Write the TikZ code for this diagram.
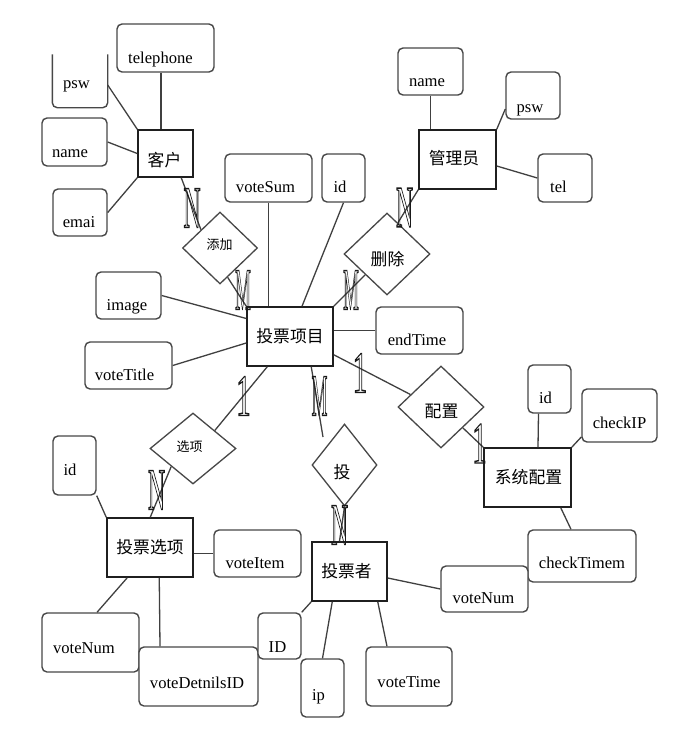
\documentclass[tikz,border=0pt]{standalone}
\usepackage{fontspec}
\setmainfont{Liberation Serif}
\newfontfamily\cjk{Noto Sans CJK SC}
\usetikzlibrary{shapes.geometric,calc}
\tikzset{
  attrbox/.style={draw=black!72, line width=1.4pt, rounded corners=5pt, fill=white, inner sep=0pt},
  entbox/.style={draw=black!88, line width=1.5pt, fill=white, inner sep=0pt},
  relbox/.style={diamond, draw=black!72, line width=1.3pt, fill=white, inner sep=0pt},
  link/.style={draw=black!75, line width=1.3pt},
  attrtext/.style={font=\fontsize{16.6}{18}\selectfont, inner sep=0pt},
  enttext/.style={font=\cjk\fontsize{16.8}{18}\selectfont, inner sep=0pt},
  card/.style={font=\fontsize{59}{60}\selectfont, text=black!90, inner sep=0pt},
}
\newcommand\outl[1]{\special{pdf:literal direct 1 Tr 1.4 w}#1}
% name x1 y1 x2 y2 dx baseoffset text
\newcommand\attrnode[8]{%
  \node[attrbox, minimum width={#4pt-#2pt}, minimum height={#5pt-#3pt},
    label={[attrtext, anchor=base, xshift=#6pt, yshift=#7pt]south:#8}]
    (#1) at ({(#2+#4)/2},{(#3+#5)/2}) {};}
% name x1 y1 x2 y2 dx dy text
\newcommand\entnode[8]{%
  \node[entbox, minimum width={#4pt-#2pt}, minimum height={#5pt-#3pt},
    label={[enttext, xshift=#6pt, yshift=#7pt]center:#8}]
    (#1) at ({(#2+#4)/2},{(#3+#5)/2}) {};}
% name cx cy hw hh dx dy text
\newcommand\relnode[8]{%
  \node[relbox, minimum width={2*#4pt}, minimum height={2*#5pt},
    label={[enttext, xshift=#6pt, yshift=#7pt]center:#8}]
    (#1) at (#2,#3) {};}
\begin{document}
\begin{tikzpicture}[x=1pt, y=-1pt]
\fill[white] (0,0) rectangle (692,734);
\useasboundingbox (0,0) rectangle (692,734);

% attributes
\attrnode{tel1}{117}{24}{214}{72}{-5}{9}{telephone}
\node[attrbox, draw=none, minimum width=54pt, minimum height=52pt,
  label={[attrtext, anchor=base, xshift=-3.5pt, yshift=19pt]south:psw}]
  (psw1) at (80,81) {};
\draw[draw=black!72, line width=1.4pt, rounded corners=5pt]
  (psw1.north west) -- (psw1.south west) -- (psw1.south east) -- (psw1.north east);
\attrnode{name1}{42}{118}{107}{166}{-4.5}{9}{name}
\attrnode{emai}{53}{189}{107}{236}{-1}{9}{emai}
\attrnode{name2}{398}{48}{463}{95}{-3.5}{9}{name}
\attrnode{psw2}{506}{72}{560}{119}{-3}{7}{psw}
\attrnode{tel2}{538}{154}{592}{202}{-6.5}{10}{tel}
\attrnode{vs}{225}{154}{312}{202}{-3}{10}{voteSum}
\attrnode{id1}{322}{154}{365}{202}{-3.5}{10}{id}
\attrnode{img}{96}{272}{161}{319}{-1.5}{9}{image}
\attrnode{vt}{85}{342}{172}{389}{-4}{9}{voteTitle}
\attrnode{et}{376}{307}{463}{354}{-2.5}{9}{endTime}
\attrnode{id3}{528}{365}{571}{413}{-4}{10}{id}
\attrnode{cip}{582}{389}{657}{442}{0}{14}{checkIP}
\attrnode{ctm}{528}{530}{636}{582}{0}{14}{checkTimem}
\attrnode{id2}{53}{436}{96}{495}{-4.5}{20}{id}
\attrnode{vi}{214}{530}{301}{577}{-2.5}{9}{voteItem}
\attrnode{vn1}{42}{613}{139}{672}{-6.5}{19}{voteNum}
\attrnode{vd}{139}{647}{258}{706}{-1.5}{18}{voteDetnilsID}
\attrnode{id4}{258}{613}{301}{659}{-2}{7}{ID}
\attrnode{ip}{301}{659}{344}{717}{-4}{17}{ip}
\attrnode{vtm}{366}{647}{452}{706}{0}{19}{voteTime}
\attrnode{vn2}{441}{566}{528}{612}{-1}{9}{voteNum}

% entities
\entnode{kh}{138}{130}{193}{177}{-1}{-6.5}{客户}
\entnode{gly}{419}{130}{496}{189}{-3.5}{1.5}{管理员}
\entnode{xm}{247}{307}{333}{366}{0}{0}{投票项目}
\entnode{xt}{484}{448}{571}{507}{1}{0}{系统配置}
\entnode{xpx}{107}{518}{193}{577}{0}{0}{投票选项}
\entnode{tps}{312}{542}{387}{601}{-3}{0}{投票者}

% relationships
\relnode{tj}{220}{248}{37.5}{36}{-0.5}{3}{\fontsize{13}{14}\selectfont 添加}
\relnode{sc}{387}{254}{43}{41}{0.5}{-5.5}{删除}
\relnode{pz}{441}{407}{43}{41}{0.5}{-4.5}{配置}
\relnode{xx}{193}{448.5}{43}{35.5}{-3.5}{2}{\fontsize{13}{14}\selectfont 选项}
\relnode{tou}{344.5}{465}{32.5}{41}{-2.5}{-7}{投}
\coordinate (touend) at (323,437);

% connectors
\draw[link] ([xshift=-4.5pt]tel1.south) -- ([xshift=-4.5pt]kh.north);
\draw[link] ([yshift=-4pt]psw1.east) -- (kh.north west);
\draw[link] (name1.east) -- (kh.west);
\draw[link] (emai.east) -- (kh.south west);
\draw[link] ([xshift=44pt]kh.south west) -- (tj.north west);
\draw[link] ($(tj.east)!0.8!(tj.south)$) -- (xm.north west);
\draw[link] (name2.south) -- (name2.south |- gly.north);
\draw[link] ([yshift=-13.5pt]psw2.west) -- (gly.north east);
\draw[link] ([yshift=-6.5pt]gly.east) -- (tel2.west);
\draw[link] (gly.south west) -- ($(sc.north)!0.25!(sc.east)$);
\draw[link] (sc.south west) -- (xm.north east);
\draw[link] (vs.south) -- (vs.south |- xm.north);
\draw[link] (id1.south) -- ([xshift=12pt]xm.north);
\draw[link] (img.east) -- ([yshift=18pt]xm.west);
\draw[link] (vt.east) -- ([yshift=-6.5pt]xm.west);
\draw[link] (et.west) -- (et.west -| xm.east);
\draw[link] ([yshift=12pt]xm.south east) -- ($(pz.west)!0.3!(pz.north)$);
\draw[link] ([xshift=21pt]xm.south west) -- (xx.north east);
\draw[link] ([xshift=65pt]xm.south west) -- (touend);
\draw[link] (tou.south) -- ([xshift=-10pt]tps.north);
\draw[link] (pz.south east) -- (xt.north west);
\draw[link] ([xshift=-11pt]id3.south) -- ([xshift=10.5pt]xt.north);
\draw[link] ([yshift=-21.5pt]cip.west) -- (xt.north east);
\draw[link] ([xshift=-11pt]xt.south east) -- ([xshift=-11pt]ctm.north);
\draw[link] (xx.south west) -- ([xshift=44pt]xpx.north west);
\draw[link] (id2.south east) -- (xpx.north west);
\draw[link] (vi.west) -- (vi.west -| xpx.east);
\draw[link] ([xshift=21pt]xpx.south west) -- ([xshift=6.5pt]vn1.north);
\draw[link] ([xshift=53pt]xpx.south west) -- ([xshift=-38.5pt]vd.north);
\draw[link] (tps.south west) -- (id4.north east);
\draw[link] ([xshift=21pt]tps.south west) -- (ip.north);
\draw[link] ([xshift=-10pt]tps.south east) -- ([xshift=-22pt]vtm.north);
\draw[link] ([yshift=-6.5pt]tps.east) -- (vn2.west);

% cardinalities
\node[card, xscale=0.4] (c1) at (192,208) {\outl{N}};
\node[card, xscale=0.3] (c2) at (243,290) {\outl{M}};
\node[card, xscale=0.3] (c3) at (351,290) {\outl{M}};
\node[card, xscale=0.4] (c4) at (404.5,207.5) {\outl{N}};
\node[card, xscale=0.5] (c5) at (360,373) {\outl{1}};
\node[card, xscale=0.5] (c6) at (243.5,396) {\outl{1}};
\node[card, xscale=0.3] (c7) at (319.5,396) {\outl{M}};
\node[card, xscale=0.5] (c8) at (479.5,443.5) {\outl{1}};
\node[card, xscale=0.4] (c9) at (156.5,490) {\outl{N}};
\node[card, xscale=0.4] (c10) at (339.5,525) {\outl{N}};
\end{tikzpicture}
\end{document}
